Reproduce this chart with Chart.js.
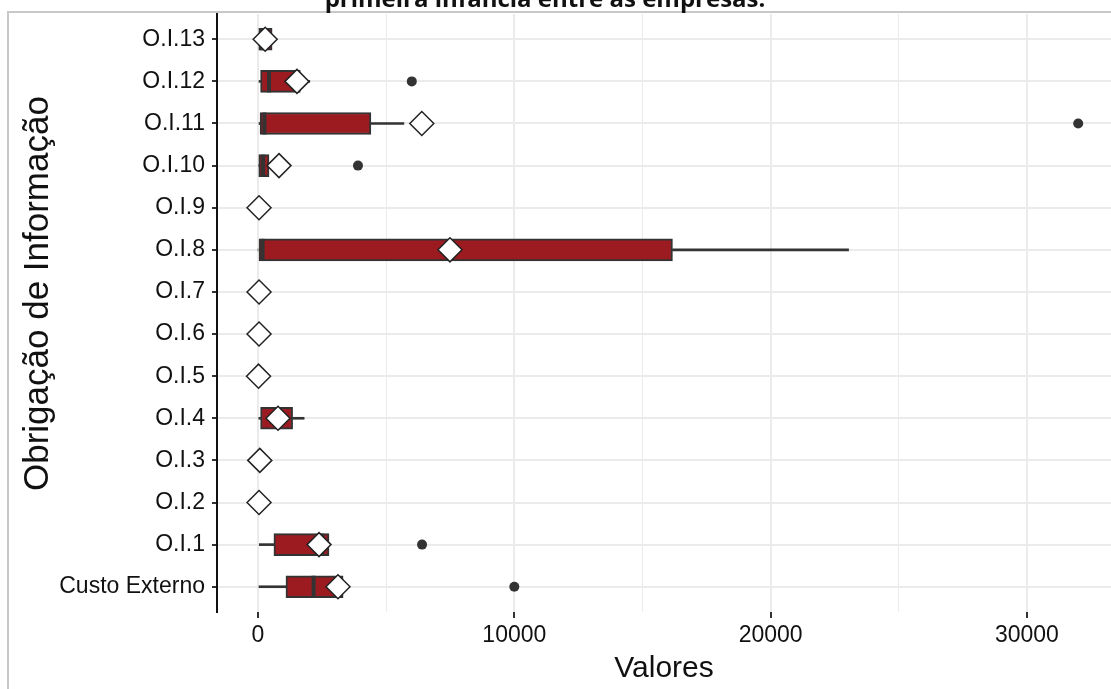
<!DOCTYPE html>
<html>
<head>
<meta charset="utf-8">
<script src="https://cdn.jsdelivr.net/npm/chart.js@4"></script>
<style>
  html, body { margin: 0; padding: 0; background: #ffffff; }
  canvas { display: block; }
</style>
</head>
<body>
<canvas id="chart" width="1111" height="689"></canvas>
<script>
// Categories, listed top to bottom
const categories = ['O.I.13', 'O.I.12', 'O.I.11', 'O.I.10', 'O.I.9', 'O.I.8', 'O.I.7',
                    'O.I.6', 'O.I.5', 'O.I.4', 'O.I.3', 'O.I.2', 'O.I.1', 'Custo Externo'];

// Box statistics per category (null = no box drawn, all values zero)
const lowerWhisker = [0,    0,    0,    0,   null, 0,     null, null, null, 30,   null, null, 50,   0];
const q1           = [30,   100,  80,   30,  null, 0,     null, null, null, 100,  null, null, 620,  1090];
const median       = [150,  430,  250,  200, null, 180,   null, null, null, 800,  null, null, 2500, 2170];
const q3           = [550,  1650, 4405, 430, null, 16170, null, null, null, 1350, null, null, 2770, 3320];
const upperWhisker = [550,  2020, 5690, 430, null, 23040, null, null, null, 1800, null, null, 2770, 3320];
const means        = [280,  1520, 6390, 820, 40,   7490,  40,   40,   20,   780,  70,   40,   2380, 3120];
const outliers     = [[], [6000], [32000], [3900], [], [], [], [], [], [], [], [], [6400], [10000]];

// Axis ticks
const xTickLabels = [0, 10000, 20000, 30000];
const xMinorGrid = [5000, 15000, 25000];
const X_MIN = -1600;
const X_MAX = 33280;

const FONT = '"Liberation Sans", Arial, sans-serif';
const BOX_FILL = '#9b1b21';
const DARK = '#333333';

function rows(fn) {
  const out = [];
  categories.forEach((c, i) => {
    const p = fn(i);
    if (p) out.push(p);
  });
  return out;
}

const lowerWhiskerData = rows(i => lowerWhisker[i] == null ? null : { x: [lowerWhisker[i], q1[i]], y: i });
const upperWhiskerData = rows(i => upperWhisker[i] == null ? null : { x: [q3[i], upperWhisker[i]], y: i });
const boxData = rows(i => q1[i] == null ? null : { x: [q1[i], q3[i]], y: i });
const medianData = rows(i => median[i] == null ? null : { x: median[i], y: i });
const meanData = rows(i => ({ x: means[i], y: i }));
const outlierData = [];
outliers.forEach((list, i) => list.forEach(v => outlierData.push({ x: v, y: i })));

const pagePlugin = {
  id: 'page',
  beforeDraw(chart) {
    const ctx = chart.ctx;
    ctx.save();
    ctx.fillStyle = '#ffffff';
    ctx.fillRect(0, 0, chart.width, chart.height);
    ctx.restore();
  },
  afterDraw(chart) {
    const ctx = chart.ctx;
    ctx.save();
    // figure frame
    ctx.strokeStyle = '#c8c8c8';
    ctx.lineWidth = 2;
    ctx.beginPath();
    ctx.moveTo(8, chart.height);
    ctx.lineTo(8, 12);
    ctx.lineTo(chart.width, 12);
    ctx.stroke();
    // caption line above the figure
    ctx.fillStyle = '#111111';
    ctx.font = 'bold 24px "Open Sans", sans-serif';
    ctx.textAlign = 'center';
    ctx.textBaseline = 'alphabetic';
    ctx.fillText('primeira infância entre as empresas.', 545, 7);
    ctx.restore();
  }
};

const barCommon = { grouped: false, borderSkipped: false };

new Chart(document.getElementById('chart'), {
  type: 'bar',
  data: {
    datasets: [
      Object.assign({ label: 'lower', data: lowerWhiskerData, barThickness: 2,
        backgroundColor: DARK, borderWidth: 0, order: 5 }, barCommon),
      Object.assign({ label: 'upper', data: upperWhiskerData, barThickness: 2,
        backgroundColor: DARK, borderWidth: 0, order: 5 }, barCommon),
      Object.assign({ label: 'box', data: boxData, barThickness: 22,
        backgroundColor: BOX_FILL, borderColor: DARK, borderWidth: 2, order: 4 }, barCommon),
      { type: 'scatter', label: 'median', data: medianData, pointStyle: 'line', rotation: 90,
        radius: 11, borderWidth: 4, borderColor: DARK, order: 3 },
      { type: 'scatter', label: 'outliers', data: outlierData, pointStyle: 'circle',
        radius: 5, backgroundColor: DARK, borderWidth: 0, order: 2 },
      { type: 'scatter', label: 'mean', data: meanData, pointStyle: 'rectRot',
        radius: 12, backgroundColor: '#ffffff', borderColor: '#222222', borderWidth: 1.5, order: 1 }
    ]
  },
  options: {
    indexAxis: 'y',
    responsive: false,
    animation: false,
    devicePixelRatio: 1,
    events: [],
    layout: { autoPadding: false, padding: { left: 0, right: 0, top: 14, bottom: 0 } },
    plugins: {
      legend: { display: false },
      tooltip: { enabled: false },
      title: { display: false }
    },
    scales: {
      x: {
        type: 'linear',
        position: 'bottom',
        min: X_MIN,
        max: X_MAX,
        bounds: 'data',
        offset: false,
        afterBuildTicks(scale) {
          scale.ticks = xTickLabels.concat(xMinorGrid).sort((a, b) => a - b).map(v => ({ value: v }));
        },
        afterFit(scale) {
          scale.height = 77;
          scale.paddingLeft = 0;
          scale.paddingRight = 0;
        },
        border: { display: false },
        grid: {
          offset: false,
          color: '#ebebeb',
          lineWidth: c => (c.tick && xTickLabels.includes(c.tick.value)) ? 2 : 1,
          drawTicks: true,
          tickLength: 6,
          tickWidth: 2,
          tickColor: c => (c.tick && xTickLabels.includes(c.tick.value)) ? DARK : 'rgba(0,0,0,0)'
        },
        ticks: {
          autoSkip: false,
          maxRotation: 0,
          padding: 4,
          color: '#111111',
          font: { family: FONT, size: 23 },
          callback: v => xTickLabels.includes(v) ? String(v) : ''
        },
        title: {
          display: true,
          text: 'Valores',
          color: '#111111',
          font: { family: FONT, size: 30 },
          padding: { top: 0, bottom: 2 }
        }
      },
      y: {
        type: 'linear',
        position: 'left',
        min: -0.6,
        max: categories.length - 0.4,
        reverse: true,
        offset: false,
        afterBuildTicks(scale) {
          scale.ticks = categories.map((c, i) => ({ value: i }));
        },
        afterFit(scale) {
          scale.width = 217;
          scale.paddingTop = 0;
          scale.paddingBottom = 0;
        },
        border: { display: true, color: '#111111', width: 2 },
        grid: {
          offset: false,
          color: '#ebebeb',
          lineWidth: 2,
          drawTicks: true,
          tickLength: 5,
          tickWidth: 2,
          tickColor: DARK
        },
        ticks: {
          autoSkip: false,
          padding: 7,
          color: '#111111',
          font: { family: FONT, size: 23 },
          callback: v => categories[v]
        },
        title: {
          display: true,
          text: '    Obrigação de Informação',
          color: '#111111',
          font: { family: FONT, size: 35 },
          padding: { top: 17, bottom: 0 }
        }
      }
    }
  },
  plugins: [pagePlugin]
});
</script>
</body>
</html>
